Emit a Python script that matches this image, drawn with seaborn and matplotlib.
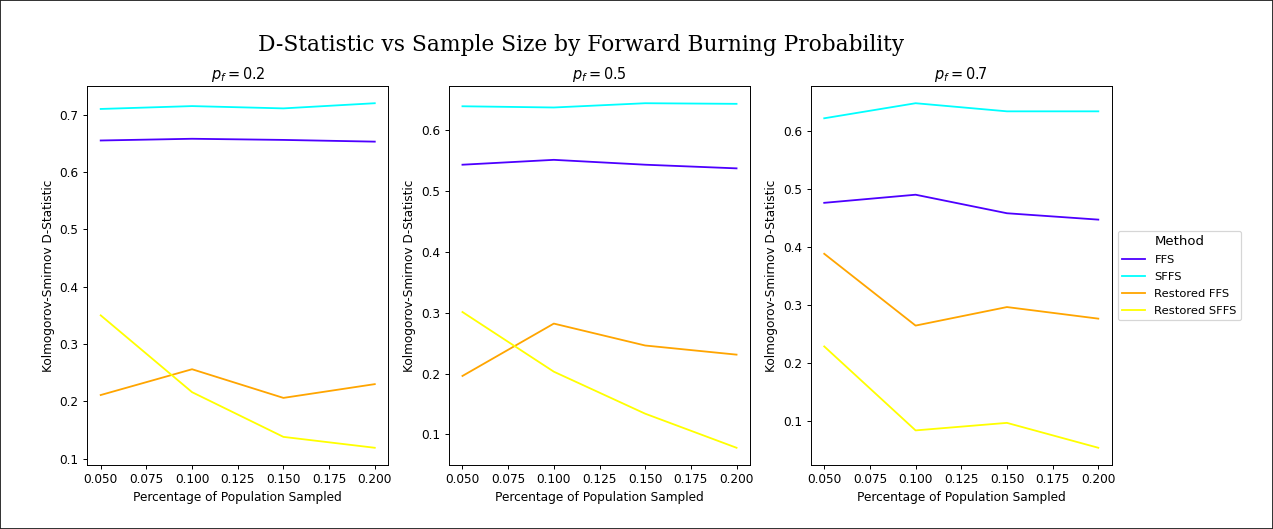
import pandas as pd
import matplotlib.pyplot as plt
import seaborn as sns
from matplotlib.patches import Rectangle

# sample fractions on the x axis
sample_sizes = [0.05, 0.10, 0.15, 0.20]
methods = ['FFS', 'SFFS', 'Restored FFS', 'Restored SFFS']
burn_probs = [0.2, 0.5, 0.7]

# D-statistic values, one list per method and p_f
ffs_02 = [0.655, 0.658, 0.656, 0.653]
sffs_02 = [0.710, 0.715, 0.711, 0.720]
rffs_02 = [0.211, 0.256, 0.206, 0.230]
rsffs_02 = [0.350, 0.216, 0.138, 0.119]

ffs_05 = [0.543, 0.551, 0.543, 0.537]
sffs_05 = [0.639, 0.637, 0.644, 0.643]
rffs_05 = [0.196, 0.282, 0.246, 0.231]
rsffs_05 = [0.301, 0.203, 0.134, 0.078]

ffs_07 = [0.476, 0.490, 0.458, 0.447]
sffs_07 = [0.622, 0.648, 0.634, 0.634]
rffs_07 = [0.388, 0.264, 0.296, 0.276]
rsffs_07 = [0.228, 0.083, 0.096, 0.053]

values = {
    0.2: [ffs_02, sffs_02, rffs_02, rsffs_02],
    0.5: [ffs_05, sffs_05, rffs_05, rsffs_05],
    0.7: [ffs_07, sffs_07, rffs_07, rsffs_07],
}

rows = []
for pf in burn_probs:
    for m, vals in zip(methods, values[pf]):
        for x, y in zip(sample_sizes, vals):
            rows.append({'pf': pf, 'Method': m, 'sample': x, 'D': y})
df = pd.DataFrame(rows)

palette = {'FFS': '#4d00ff', 'SFFS': '#00ffff',
           'Restored FFS': '#ffa500', 'Restored SFFS': '#ffff00'}

fig, axs = plt.subplots(1, 3, figsize=(1273 / 87, 529 / 87), dpi=87)
fig.subplots_adjust(left=87 / 1273, right=1112 / 1273, bottom=1 - 465 / 529,
                    top=1 - 86 / 529, wspace=0.2)

for ax, pf in zip(axs, burn_probs):
    sns.lineplot(data=df[df['pf'] == pf], x='sample', y='D', hue='Method',
                 hue_order=methods, palette=palette, ax=ax, legend=(pf == 0.7))
    ax.set_title(f'$p_f = {pf}$', fontsize=12)
    ax.set_xlabel('Percentage of Population Sampled')
    ax.set_ylabel('Kolmogorov-Smirnov D-Statistic')
    ax.set_xticks([0.05, 0.075, 0.1, 0.125, 0.15, 0.175, 0.2])
    ax.set_xticklabels(['0.050', '0.075', '0.100', '0.125', '0.150', '0.175', '0.200'])

sns.move_legend(axs[2], 'center left', bbox_to_anchor=(1.0, 0.5),
                title='Method', fontsize=9.5, title_fontsize=11,
                labelspacing=0.6)

fig.suptitle('D-Statistic vs Sample Size by Forward Burning Probability',
             family='DejaVu Serif', fontsize=18, x=581 / 1273, y=0.935)

# frame around the whole picture, like the screenshot
fig.patches.append(Rectangle((0, 0), 1, 1, transform=fig.transFigure,
                             fill=False, edgecolor='#222222', linewidth=1.5))

plt.savefig('out.png', dpi=87)
